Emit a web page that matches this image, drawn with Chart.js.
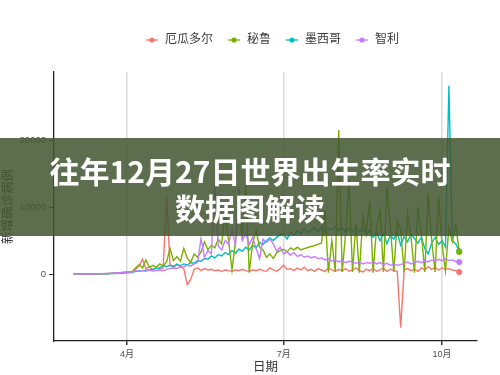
<!DOCTYPE html>
<html>
<head>
<meta charset="utf-8">
<script src="https://cdn.jsdelivr.net/npm/chart.js@4.4.0/dist/chart.umd.min.js"></script>
<style>
  html, body { margin: 0; padding: 0; background: #fff; }
  #wrap { position: relative; width: 500px; height: 375px; overflow: hidden; }
  #banner {
    position: absolute; left: 0; top: 138px; width: 500px; height: 98px;
    box-sizing: border-box; padding-top: 14px;
    background: rgba(66, 86, 50, 0.86); color: #fff;
    font-family: "Noto Sans CJK SC", sans-serif; font-weight: bold;
    font-size: 30px; line-height: 37px; text-align: center;
  }
</style>
</head>
<body>
<div id="wrap">
  <canvas id="c" width="500" height="375"></canvas>
  <div id="banner">往年12月27日世界出生率实时<br>数据图解读</div>
</div>
<script>
// day of year (2020), every 2 days from Mar 1 to Oct 11
const days = [
  61, 63, 65, 67, 69, 71, 73, 75, 77, 79,
  81, 83, 85, 87, 89, 91, 93, 95, 97, 99,
  101, 103, 105, 107, 109, 111, 113, 115, 117, 119,
  121, 123, 125, 127, 129, 131, 133, 135, 137, 139,
  141, 143, 145, 147, 149, 151, 153, 155, 157, 159,
  161, 163, 165, 167, 169, 171, 173, 175, 177, 179,
  181, 183, 185, 187, 189, 191, 193, 195, 197, 199,
  201, 203, 205, 207, 209, 211, 213, 215, 217, 219,
  221, 223, 225, 227, 229, 231, 233, 235, 237, 239,
  241, 243, 245, 247, 249, 251, 253, 255, 257, 259,
  261, 263, 265, 267, 269, 271, 273, 275, 277, 279,
  281, 283, 285
];

const ecuador = [
  0, 0, 0, 0, 0, 0, 0, 10, 20, 40,
  60, 100, 150, 200, 250, 300, 330, 400,
  700, 1200, 2200, 800, 1100, 600, 900, 700, 900,
  11500, 1300, 1000, 1500, 1100, 800, -1600, -800, 700, 900,
  500, 800, 600, 700, 500, 600, 400, 600, 500, 400,
  600, 500, 700, 500, 400, 600, 500, 700, 500, 400,
  900, 600, 400, 800, 1300, 700, 800, 500, 900, 600,
  1000, 500, 700, 400, 800, 600, 400, 900, 600, 400,
  700, 500, 800, 400, 600, 900, 500, 300, 700, 500,
  800, 400, 600, 900, 400, 700, 500, 400, -8000, 600,
  800, 500, 700, 400, 900, 600, 1100, 700, 1000, 600,
  900, 700, 800, 600, 500, 300
];

const peru = [
  0, 0, 0, 0, 0, 0, 10, 20, 40, 60,
  80, 100, 130, 170, 200, 250, 280, 350,
  900, 1400, 900, 2100, 1000, 1300, 1000, 1500, 1200,
  1800, 3800, 2000, 2600, 1900, 3800, 2400, 1700, 3000, 2500,
  3300, 4800, 3600, 4300, 3900, 5200, 4500, 9000, 5000, 600,
  4800, 10000, 5200, 13500, 200, 4600, 6500, 4000, 3600, 2500,
  3000, 2300, 3200, 3500, 3700, 3300, 3900, 3600, 4000, 3600,
  3800, 3950, 4100, 4250, 4450, 4600, 9500, 200, 5000, 300,
  21500, 300, 6000, 14000, 300, 7500, 200, 8500, 6000, 11000,
  200, 7000, 9500, 300, 13000, 7000, 300, 8000, 6500, 300,
  9000, 5500, 200, 10000, 6000, 300, 12000, 5000, 300, 11500,
  4500, 500, 7000, 4800, 7300, 3300
];

const mexico = [
  0, 0, 0, 0, 0, 0, 0, 10, 20, 30,
  40, 60, 80, 100, 120, 150, 180, 200,
  400, 450, 500, 550, 650, 700, 800, 900, 1300,
  1100, 1300, 1150, 1400, 1250, 1500, 1350, 1700, 1600, 2000,
  1900, 2300, 2200, 2700, 2400, 2900, 2700, 3200, 2900, 3500,
  3100, 3700, 3400, 4000, 3600, 4300, 3900, 4700, 4400, 5000,
  5400, 5000, 5500, 5900, 6000, 5200, 6300, 5800, 6500, 6000,
  6800, 6200, 6500, 6900, 6300, 7000, 6400, 6800, 6600, 7100,
  6500, 6900, 6200, 6800, 6400, 7000, 6300, 6700, 5900, 6500,
  5500, 6200, 5000, 6000, 4500, 5800, 5200, 6200, 4300, 5600,
  4800, 6000, 5300, 4600, 5500, 3800, 3000, 4600, 5500, 4400,
  5000, 4000, 28100, 5000, 4500, 3400
];

const chile = [
  0, 0, 0, 0, 0, 0, 10, 20, 40, 70,
  90, 120, 150, 180, 200, 250, 280, 300,
  500, 400, 500, 400, 600, 450, 500, 600, 500,
  700, 800, 900, 850, 1000, 1100, 1300, 1200, 1500, 1700,
  5300, 2500, 3500, 3000, 13500, 4200, 3600, 5000, 4500, 6500,
  4300, 13000, 5000, 6000, 4400, 5500, 3800, 2300, 5200, 4700,
  5200, 4500, 3400, 4000, 3000, 3300, 2800, 3200, 2600, 2900,
  2500, 2700, 2400, 2600, 2300, 2400, 2100, 2300, 1900, 2100,
  1800, 2000, 1700, 1900, 1800, 1600, 1800, 1500, 1700, 1600,
  1800, 1500, 1700, 1400, 1600, 1300, 1500, 1300, 1400, 1600,
  1800, 1500, 1700, 1900, 1700, 2000, 1800, 2100, 1900, 2200,
  2000, 2300, 2000, 2100, 1900, 1800
];

const seriesNames = ['厄瓜多尔', '秘鲁', '墨西哥', '智利'];
const seriesColors = ['#F8766D', '#7CAE00', '#00BFC4', '#C77CFF'];
const drawOrder = [4, 2, 3, 1]; // lower number is drawn on top
const xTickDays = [92, 183, 275];
const xTickLabels = ['4月', '7月', '10月'];
const yTicks = [0, 10000, 20000];

const FONT = "'Liberation Sans', 'Noto Sans CJK SC', sans-serif";
const seriesValues = [ecuador, peru, mexico, chile];
const lastIdx = days.length - 1;

const datasets = seriesNames.map((name, k) => ({
  label: name,
  data: days.map((d, i) => ({ x: d, y: seriesValues[k][i] })),
  borderColor: seriesColors[k],
  backgroundColor: seriesColors[k],
  borderWidth: 1.4,
  pointRadius: ctx => (ctx.dataIndex === lastIdx ? 3 : 0),
  pointBorderWidth: 0,
  tension: 0,
  order: drawOrder[k],
}));

// ggplot style legend across the top
const ggLegend = {
  id: 'ggLegend',
  afterDraw(chart) {
    const ctx = chart.ctx;
    ctx.save();
    ctx.font = '12px ' + FONT;
    ctx.textBaseline = 'middle';
    let x = 152;
    const y = 40;
    chart.data.datasets.forEach(ds => {
      ctx.strokeStyle = ds.borderColor;
      ctx.lineWidth = 1.3;
      ctx.beginPath();
      ctx.moveTo(x - 6, y);
      ctx.lineTo(x + 6, y);
      ctx.stroke();
      ctx.fillStyle = ds.borderColor;
      ctx.beginPath();
      ctx.arc(x, y, 2.6, 0, Math.PI * 2);
      ctx.fill();
      ctx.fillStyle = '#3a3a3a';
      ctx.fillText(ds.label, x + 13, y);
      x += 13 + ctx.measureText(ds.label).width + 21;
    });
    ctx.restore();
  }
};

new Chart(document.getElementById('c'), {
  type: 'line',
  data: { datasets },
  options: {
    responsive: false,
    animation: false,
    layout: { padding: { top: 72, right: 23, left: 0, bottom: 0 } },
    plugins: { legend: { display: false }, tooltip: { enabled: false } },
    scales: {
      x: {
        type: 'linear',
        min: 49.59,
        max: 295.33,
        afterBuildTicks: s => { s.ticks = xTickDays.map(v => ({ value: v })); },
        afterFit: s => { s.height = 34; },
        ticks: {
          callback: v => xTickLabels[xTickDays.indexOf(v)],
          color: '#4d4d4d',
          font: { family: FONT, size: 9 },
          padding: 4,
          maxRotation: 0,
          autoSkip: false,
        },
        grid: { color: '#d9d9d9', lineWidth: 1.5, tickColor: '#333', tickLength: 4 },
        border: { display: true, color: '#222', width: 1.3 },
        title: {
          display: true, text: '日期', color: '#333',
          font: { family: FONT, size: 12.5 }, padding: { top: 0, bottom: 0 },
        },
      },
      y: {
        min: -10000,
        max: 30150,
        afterBuildTicks: s => { s.ticks = yTicks.map(v => ({ value: v })); },
        afterFit: s => { s.width = 54; },
        ticks: {
          callback: v => String(v),
          color: '#4d4d4d',
          font: { family: FONT, size: 9.5 },
          padding: 3,
        },
        grid: { drawOnChartArea: false, tickColor: '#333', tickLength: 5 },
        border: { display: true, color: '#222', width: 1.3 },
        title: {
          display: true, text: '新增确诊病例', color: '#333',
          font: { family: FONT, size: 12.5 }, padding: { top: 1, bottom: 0 },
        },
      },
    },
  },
  plugins: [ggLegend],
});
</script>
</body>
</html>
